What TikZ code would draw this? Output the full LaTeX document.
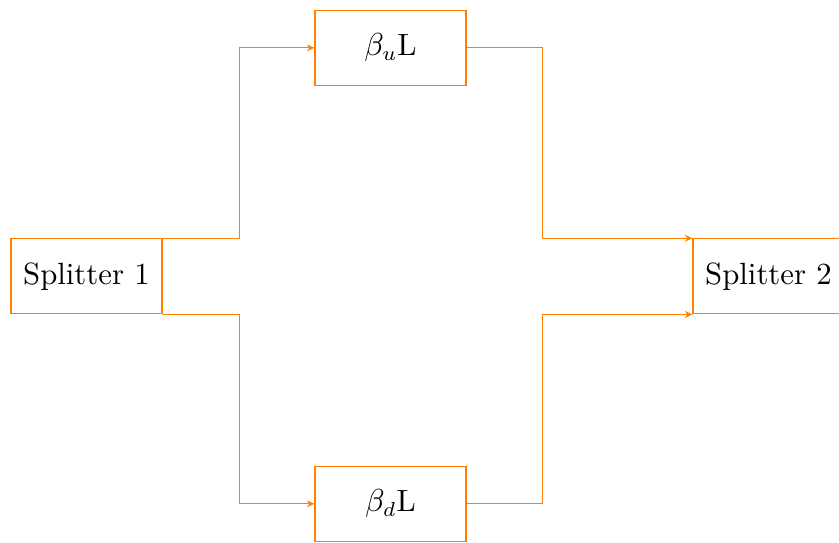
\documentclass[tikz,border=0pt]{standalone}
\usepackage{amsmath}
\usepackage{tikz}
\usetikzlibrary{positioning, arrows.meta}

\begin{document}
\begin{tikzpicture}[
    blk/.style={draw=orange, minimum width=1.83cm, minimum height=0.91cm, inner sep=2pt, font=\fontsize{10.6}{13}\selectfont},
    link/.style={draw=orange, -{Stealth[length=2.6pt, width=2.4pt]}}
]
\useasboundingbox (0,0) rectangle (10.17,6.58);
% bloques
\node[blk] (s1) at (1.048, 3.23) {Splitter 1};
\node[blk] (bu) at (4.733, 6.0) {$\beta_u$L};
\node[blk] (bd) at (4.733, 0.473) {$\beta_d$L};
\node[blk] (s2) at (9.315, 3.23) {Splitter 2};
% brazos
\draw[link] (s1.north east) -- ++(0.93,0) |- (bu.west);
\draw[link] (s1.south east) -- ++(0.93,0) |- (bd.west);
\draw[link] (bu.east) -- ++(0.92,0) |- (s2.north west);
\draw[link] (bd.east) -- ++(0.92,0) |- (s2.south west);
\end{tikzpicture}
\end{document}
